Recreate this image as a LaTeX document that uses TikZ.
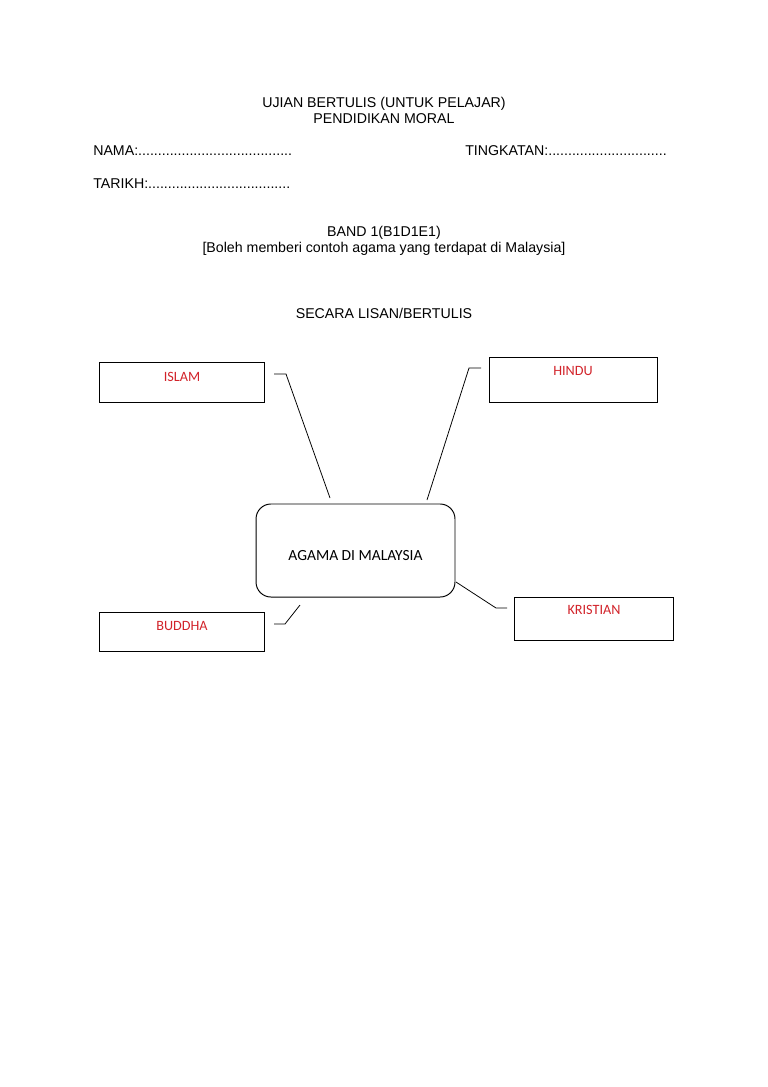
\documentclass[tikz,border=0pt]{standalone}
\usepackage{fontspec}
\setmainfont{Liberation Sans}
\newfontfamily\carlito{Carlito}
\usetikzlibrary{positioning}
\definecolor{merah}{HTML}{D2232A}
\tikzset{
  tajuk/.style={font=\fontsize{11}{12.4}\selectfont, align=center, inner sep=0pt},
  medan/.style={font=\fontsize{11}{12.4}\selectfont, anchor=west, inner sep=0pt},
  kotak/.style={rectangle, draw=black, line width=0.75pt, inner sep=0pt},
  pusat/.style={kotak, rounded corners=11.6pt, minimum width=154.2pt,
    minimum height=72.1pt},
  tpusat/.style={font=\carlito\fontsize{12}{14}\selectfont, inner sep=0pt},
  agama/.style={font=\carlito\fontsize{11}{13}\selectfont, text=merah, inner sep=0pt},
  garis/.style={line width=0.6pt}
}

\begin{document}
\begin{tikzpicture}[x=0.775pt, y=-0.775pt]
    \useasboundingbox[fill=white] (0,0) rectangle (768,1087);

    % kepala kertas
    \node[tajuk] (tajuk) at (384,110) {UJIAN BERTULIS (UNTUK PELAJAR)\\PENDIDIKAN MORAL};
    \node[medan] (nama) at (93,151) {NAMA:.......................................};
    \node[medan] (tingkatan) at (465,151) {TINGKATAN:..............................};
    \node[medan] (tarikh) at (93,184) {TARIKH:....................................};
    \node[tajuk] (band) at (384,240.5) {BAND 1(B1D1E1)\\{}[Boleh memberi contoh agama yang terdapat di Malaysia]};
    \node[tajuk] (lisan) at (384,313) {SECARA LISAN/BERTULIS};

    % peta minda
    \node[pusat] (pusat) at (355.5,550.5) {};
    \node[tpusat, below=0pt of pusat.center] (tpusat) {AGAMA DI MALAYSIA};
    \node[kotak, minimum width=128.6pt, minimum height=31pt] (islam) at (182,382) {};
    \node[kotak, minimum width=130.2pt, minimum height=34.9pt] (hindu) at (573,379.5) {};
    \node[kotak, minimum width=128.6pt, minimum height=29.5pt] (buddha) at (182,632) {};
    \node[kotak, minimum width=122.5pt, minimum height=33.3pt] (kristian) at (594,618.5) {};

    \node[agama, below=8pt of islam.north] (tislam) {ISLAM};
    \node[agama, below=7.4pt of hindu.north] (thindu) {HINDU};
    \node[agama, below=6.6pt of buddha.north] (tbuddha) {BUDDHA};
    \node[agama, below=6.6pt of kristian.north] (tkristian) {KRISTIAN};

    \coordinate (i1) at (274,374);
    \coordinate (i2) at (286,374);
    \coordinate (i3) at (330,498);
    \coordinate (h1) at (481,368);
    \coordinate (h2) at (469,368);
    \coordinate (h3) at (427,500);
    \coordinate (b1) at (274,624);
    \coordinate (b2) at (285,624);
    \coordinate (b3) at (300,605);
    \coordinate (k1) at (456,582);
    \coordinate (k2) at (496,608);
    \coordinate (k3) at (507,608);

    \draw[garis] (i1) -- (i2) -- (i3);
    \draw[garis] (h1) -- (h2) -- (h3);
    \draw[garis] (b1) -- (b2) -- (b3);
    \draw[garis] (k1) -- (k2) -- (k3);
\end{tikzpicture}
\end{document}
